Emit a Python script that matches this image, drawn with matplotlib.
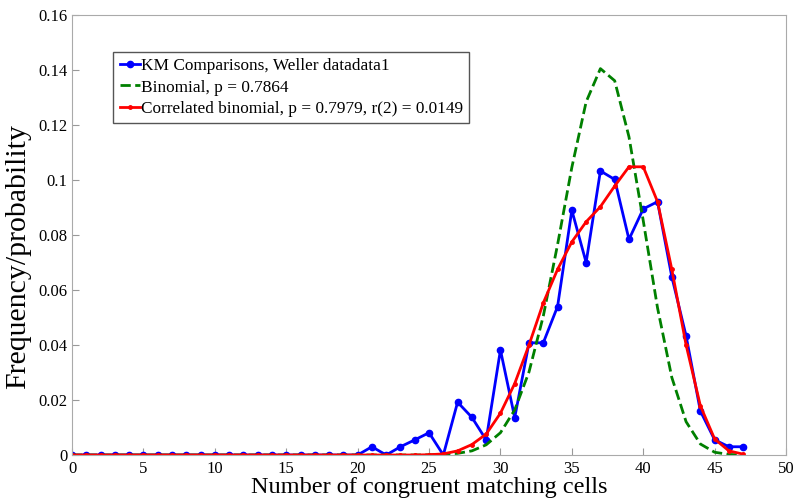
import numpy as np
import matplotlib
matplotlib.use('Agg')
import matplotlib.pyplot as plt
from matplotlib.ticker import FuncFormatter

# Numero de celulas (0 a 47)
cells = list(range(0, 48))

# KM Comparisons (frequencia observada)
km_freq = [0.0] * 21 + [0.003, 0.0, 0.003, 0.0055, 0.0081, 0.0, 0.0192, 0.0137, 0.0055,
                        0.0382, 0.0136, 0.0408, 0.0408, 0.054, 0.089, 0.070, 0.1033, 0.1002,
                        0.0784, 0.0895, 0.0921, 0.0648, 0.0433, 0.016, 0.0055, 0.003, 0.003]

# Binomial, p = 0.7864
binom_prob = [0.0] * 25 + [0.00006, 0.0002, 0.0006, 0.0015, 0.0037, 0.0081, 0.0164, 0.0302,
                           0.0505, 0.0765, 0.1046, 0.1284, 0.1405, 0.1361, 0.1157, 0.0852,
                           0.0535, 0.0282, 0.0121, 0.0040, 0.0010, 0.0002, 0.0]

# Binomial correlacionada, p = 0.7979, r(2) = 0.0149
corr_prob = [0.0] * 25 + [0.0001, 0.0004, 0.0015, 0.0038, 0.0076, 0.0152, 0.026, 0.040,
                          0.0553, 0.0675, 0.0775, 0.0848, 0.0903, 0.0978, 0.1048, 0.1048,
                          0.0921, 0.0675, 0.040, 0.0179, 0.0058, 0.0015, 0.0003]

plt.rcParams['font.family'] = ['Liberation Serif', 'DejaVu Serif']

fig = plt.figure(figsize=(7.94, 5.0), dpi=100)
ax = fig.add_axes([0.0907, 0.09, 0.8993, 0.88])

ax.plot(cells, km_freq, '-o', color='#0000ff', lw=2, ms=4.5,
        label='KM Comparisons, Weller datadata1')
ax.plot(cells, binom_prob, '--', color='#008000', lw=2,
        label='Binomial, p = 0.7864')
ax.plot(cells, corr_prob, '-', color='#ff0000', lw=2, marker='.', ms=5,
        label='Correlated binomial, p = 0.7979, r(2) = 0.0149')

ax.set_xlim(0, 50)
ax.set_ylim(0, 0.16)
ax.set_xticks(np.arange(0, 51, 5))
ax.set_yticks(np.arange(0, 0.161, 0.02))
ax.yaxis.set_major_formatter(FuncFormatter(lambda v, p: '%g' % round(v, 2)))
ax.tick_params(direction='in', color='#999999', labelsize=12, length=5)
ax.tick_params(axis='x', pad=4)
for s in ax.spines.values():
    s.set_color('#aaaaaa')

ax.set_xlabel('Number of congruent matching cells', fontsize=17.5, labelpad=0)
ax.set_ylabel('Frequency/probability', fontsize=21.5)
ax.yaxis.set_label_coords(-0.057, 0.452)

leg = ax.legend(loc='upper left', bbox_to_anchor=(0.046, 0.935), fontsize=12.4,
                fancybox=False, framealpha=1, edgecolor='#555555',
                handlelength=1.2, handletextpad=0.05, borderpad=0.35, labelspacing=0.3)
leg.get_frame().set_linewidth(1.0)

fig.savefig('out.png', dpi=100)
